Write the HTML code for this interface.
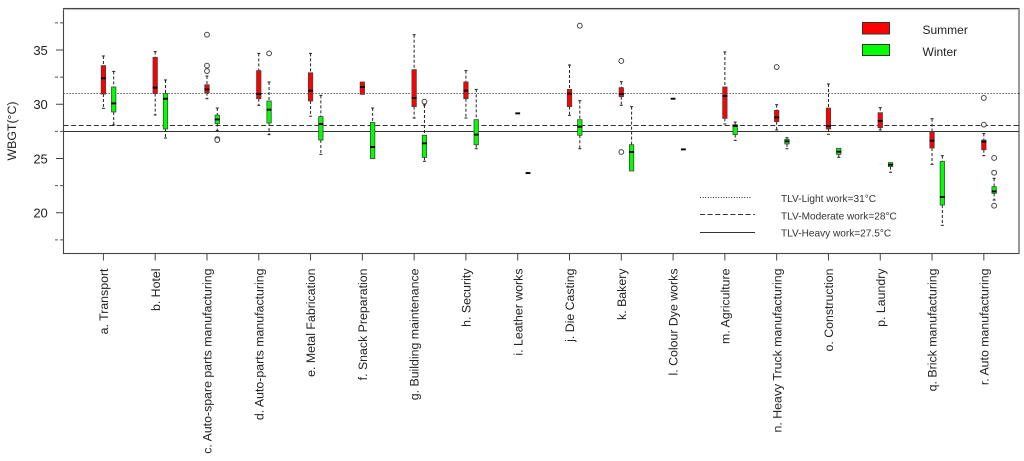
<!DOCTYPE html>
<html>
<head>
<meta charset="utf-8">
<title>WBGT by workplace and season</title>
<style>
html,body{margin:0;padding:0;background:#fff;width:1024px;height:461px;overflow:hidden}
svg{display:block;font-family:"Liberation Sans",Arial,sans-serif}
</style>
</head>
<body>
<svg id="chart" width="1024" height="461" viewBox="0 0 1024 461" xmlns="http://www.w3.org/2000/svg">
<rect x="0" y="0" width="1024" height="461" fill="#fff"/>
<g id="marks"></g>
<rect x="63.5" y="8.5" width="955.5" height="245" fill="none" stroke="#444" stroke-width="1.1"/>
<line x1="63.5" y1="9.6" x2="1019" y2="9.6" stroke="#bbb" stroke-width="1"/>
<text transform="translate(16,131) rotate(-90)" text-anchor="middle" font-size="12.3" fill="#222">WBGT(°C)</text>
<g>
<rect x="862.5" y="22.5" width="27" height="11.5" fill="#f00" stroke="#333" stroke-width="1"/>
<text x="922.5" y="34" font-size="12" fill="#222">Summer</text>
<rect x="862.5" y="44.5" width="27" height="11" fill="#0f0" stroke="#333" stroke-width="1"/>
<text x="922.5" y="56" font-size="12" fill="#222">Winter</text>
<line x1="700" y1="197.5" x2="752" y2="197.5" stroke="#333" stroke-width="1" stroke-dasharray="1 1.6"/>
<text x="781" y="202" font-size="10.1" fill="#333">TLV-Light work=31°C</text>
<line x1="700" y1="214.5" x2="755" y2="214.5" stroke="#333" stroke-width="1" stroke-dasharray="5 2.6"/>
<text x="781" y="219.5" font-size="10.1" fill="#333">TLV-Moderate work=28°C</text>
<line x1="700" y1="232.5" x2="755" y2="232.5" stroke="#333" stroke-width="1"/>
<text x="781" y="236.5" font-size="10.1" fill="#333">TLV-Heavy work=27.5°C</text>
</g>
</svg>
<script>
var categories = ["a. Transport","b. Hotel","c. Auto-spare parts manufacturing","d. Auto-parts manufacturing","e. Metal Fabrication","f. Snack Preparation","g. Building maintenance","h. Security","i. Leather works","j. Die Casting","k. Bakery","l. Colour Dye works","m. Agriculture","n. Heavy Truck manufacturing","o. Construction","p. Laundry","q. Brick manufacturing","r. Auto manufacturing"];
var majorTicks = [20,25,30,35];
var minorTicks = [17.5,22.5,27.5,32.5,37.5];
var limitValues = [31,28,27.5];
var limitNames = ["light","moderate","heavy"];

var summerLow = [29.62,29.01,30.51,29.9,28.9,30.91,28.73,28.73,29.16,28.98,29.9,30.51,28.18,27.63,27.23,27.63,24.46,25.26];
var summerQ1 = [30.94,30.98,31.07,30.51,30.3,30.91,29.78,30.51,29.16,29.78,30.7,30.51,28.7,28.39,27.72,27.84,25.97,25.81];
var summerMedian = [32.39,31.53,31.37,30.94,31.25,31.59,30.58,31.25,29.16,30.98,30.94,30.51,30.76,28.79,28.0,28.46,26.64,26.55];
var summerQ3 = [33.56,34.32,31.8,33.1,32.9,32.05,33.19,32.05,29.16,31.37,31.53,30.51,31.59,29.44,29.65,29.22,27.47,26.7];
var summerHigh = [34.45,34.85,32.6,34.69,34.69,32.05,36.41,33.1,29.16,33.62,32.08,30.51,34.82,29.96,31.87,29.69,28.67,27.3];
var summerOutliers = [[],[],[36.41,33.56,33.06],[],[],[],[],[],[],[],[33.99,25.6],[],[],[33.43],[],[],[],[30.58,28.12]];

var winterLow = [28.09,26.89,27.57,27.2,25.38,24.98,24.74,25.9,23.66,25.9,23.85,25.84,26.67,25.9,25.11,23.73,18.84,21.17];
var winterQ1 = [29.29,27.72,28.21,28.27,26.7,24.98,25.1,26.27,23.66,27.14,23.85,25.84,27.2,26.34,25.38,24.25,20.71,21.79];
var winterMedian = [30.08,30.51,28.6,29.5,28.18,26.06,26.4,27.2,23.66,27.93,25.6,25.84,28.0,26.58,25.63,24.43,21.45,21.97];
var winterQ3 = [31.59,30.98,29.0,30.3,28.86,28.33,27.14,28.58,23.66,28.58,26.27,25.84,28.12,26.77,25.94,24.62,24.74,22.4];
var winterHigh = [33.03,32.24,29.65,32.05,30.82,29.65,29.93,31.37,23.66,30.33,29.78,25.84,28.36,26.92,25.94,24.62,25.26,23.17];
var winterOutliers = [[],[],[26.8,26.7],[34.69],[],[],[30.24],[],[],[37.24],[],[],[],[],[],[],[],[25.05,23.69,20.65]];

var NS = "http://www.w3.org/2000/svg";
var marks = document.getElementById("marks");
function xPos(i){ return 103.4 + i * 51.79; }
function yPos(v){ return 50 + (35 - v) * 10.85; }
function make(tag, attrs, parent){
  var el = document.createElementNS(NS, tag);
  for (var k in attrs) el.setAttribute(k, attrs[k]);
  (parent || marks).appendChild(el);
  return el;
}

majorTicks.forEach(function(v){
  var t = make("line", {x1:56, x2:63.5, y1:yPos(v), y2:yPos(v), stroke:"#444", "stroke-width":1});
  
  
  var l = make("text", {x:47.8, y:yPos(v)+4.8, "text-anchor":"end", "font-size":13, fill:"#222"});
  
  
  l.textContent = v;
});
minorTicks.forEach(function(v){
  var t = make("line", {x1:55, x2:63.5, y1:yPos(v), y2:yPos(v), stroke:"#555", "stroke-width":1, "stroke-dasharray":"3 2"});
  
  
});

limitValues.forEach(function(v, i){
  var dash = limitNames[i] === "light" ? "1.2 1.8" : (limitNames[i] === "moderate" ? "5 2.6" : "none");
  var ly = Math.floor(yPos(v)) + 0.5;
  var ln = make("line", {x1:63.5, x2:1019, y1:ly, y2:ly, stroke:"#333", "stroke-width":1.1, "stroke-dasharray":dash});
  
  
});

function drawBox(cx, low, q1, med, q3, high, outliers, fill, season){
  var g = make("g", {});
  
  
  if (high > q3) {
    make("line", {x1:cx, x2:cx, y1:yPos(high), y2:yPos(q3), stroke:"#222", "stroke-width":1, "stroke-dasharray":"3 2"}, g);
    make("line", {x1:cx-1.5, x2:cx+1.5, y1:yPos(high), y2:yPos(high), stroke:"#222", "stroke-width":1}, g);
  }
  if (low < q1) {
    make("line", {x1:cx, x2:cx, y1:yPos(q1), y2:yPos(low), stroke:"#222", "stroke-width":1, "stroke-dasharray":"3 2"}, g);
    make("line", {x1:cx-1.5, x2:cx+1.5, y1:yPos(low), y2:yPos(low), stroke:"#222", "stroke-width":1}, g);
  }
  if (q3 > q1) {
    make("rect", {x:cx-2.2, y:yPos(q3), width:4.4, height:yPos(q1)-yPos(q3), fill:fill, stroke:"#444", "stroke-width":0.8}, g);
  }
  make("line", {x1:cx-2.4, x2:cx+2.4, y1:yPos(med), y2:yPos(med), stroke:"#000", "stroke-width":1.9}, g);
  outliers.forEach(function(o){
    make("circle", {cx:cx, cy:yPos(o), r:2.4, fill:"#fff", stroke:"#444", "stroke-width":1}, g);
  });
}

categories.forEach(function(name, i){
  var cx = xPos(i);
  var tick = make("line", {x1:cx, x2:cx, y1:253.5, y2:260.5, stroke:"#444", "stroke-width":1});
  
  
  var label = make("text", {transform:"translate(" + (cx + 4.6) + ",268.5) rotate(-90)", "text-anchor":"end", "font-size":12.35, fill:"#222"});
  
  
  label.textContent = name;
  drawBox(cx, summerLow[i], summerQ1[i], summerMedian[i], summerQ3[i], summerHigh[i], summerOutliers[i], "#f00", "summer");
  drawBox(cx + 10.3, winterLow[i], winterQ1[i], winterMedian[i], winterQ3[i], winterHigh[i], winterOutliers[i], "#0f0", "winter");
});
</script>
</body>
</html>
